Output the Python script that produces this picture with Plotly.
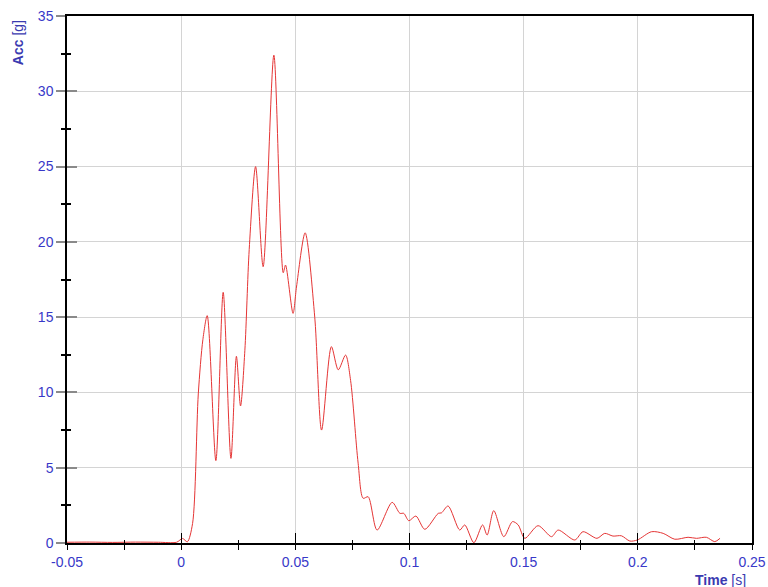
import plotly.graph_objects as go

# Time [s] and acceleration [g]
time_s = [-0.05, -0.04, -0.03, -0.02, -0.01, -0.002, 0.0006, 0.0027, 0.0050, 0.0075,
          0.0095, 0.0114, 0.0152, 0.0184, 0.0218, 0.0242, 0.026, 0.0279, 0.0298,
          0.0326, 0.0359, 0.0406, 0.0447, 0.0457, 0.049, 0.0505, 0.0543, 0.0585, 0.0615,
          0.0658, 0.0688, 0.072, 0.0742, 0.0775, 0.0797, 0.0819, 0.0858, 0.0924, 0.0958,
          0.0975, 0.0997, 0.1028, 0.1067, 0.1126, 0.114, 0.1169, 0.122, 0.1242, 0.1282,
          0.132, 0.134, 0.1369, 0.1413, 0.1451, 0.1476, 0.1505, 0.1563, 0.1622, 0.1651,
          0.1724, 0.176, 0.1821, 0.1855, 0.1891, 0.1928, 0.1965, 0.1998, 0.206, 0.2111,
          0.2162, 0.222, 0.2257, 0.23, 0.2337, 0.236]
acc_g = [0.05, 0.06, 0.04, 0.06, 0.05, 0.05, 0.3, 0.08, 1.3, 9.9,
         13.5, 15.1, 5.47, 16.65, 5.62, 12.4, 9.1, 12.8, 19.5,
         25.0, 18.35, 32.4, 17.95, 18.46, 15.25, 17.0, 20.6, 15.0, 7.5,
         13.04, 11.5, 12.48, 10.8, 5.3, 2.97, 3.07, 0.86, 2.7, 1.97,
         1.97, 1.48, 1.79, 0.91, 1.97, 2.0, 2.46, 0.86, 1.2, 0.02,
         1.2, 0.53, 2.15, 0.42, 1.42, 1.2, 0.31, 1.15, 0.42, 0.86,
         0.2, 0.75, 0.31, 0.64, 0.46, 0.48, 0.13, 0.2, 0.75, 0.64,
         0.25, 0.38, 0.31, 0.38, 0.09, 0.31]

x_ticks = [-0.05, 0, 0.05, 0.1, 0.15, 0.2, 0.25]
x_labels = ["-0.05", "0", "0.05", "0.1", "0.15", "0.2", "0.25"]
y_ticks = [0, 5, 10, 15, 20, 25, 30, 35]

label_color = "#3838c8"
title_color = "#3a3ab0"
font_family = "Liberation Sans, Arial, sans-serif"

fig = go.Figure()
fig.add_trace(go.Scatter(x=time_s, y=acc_g, mode="lines",
                         line=dict(color="#e53535", width=1, shape="spline", smoothing=0.8),
                         hoverinfo="skip", showlegend=False))
# invisible trace for overlay axes carrying the inside halves of the ticks
fig.add_trace(go.Scatter(x=[x_ticks[0], x_ticks[-1]], y=[0, 35], xaxis="x2", yaxis="y2",
                         mode="markers", marker=dict(opacity=0), hoverinfo="skip",
                         showlegend=False))

fig.update_layout(
    width=768, height=587,
    margin=dict(l=67, r=16, t=16, b=44),
    plot_bgcolor="white", paper_bgcolor="white",
    font=dict(family=font_family, size=14, color=label_color),
    xaxis=dict(range=[-0.05, 0.25], tickvals=x_ticks, ticktext=x_labels, automargin=False,
               showgrid=True, gridcolor="#d4d4d4", gridwidth=1, zeroline=False,
               showline=True, linecolor="black", linewidth=1.5, mirror=True,
               ticks="outside", ticklen=5, tickcolor="black", tickwidth=1,
               minor=dict(dtick=0.025, tick0=0, ticks="outside", ticklen=5,
                          tickcolor="black", showgrid=False),
               tickfont=dict(size=14, color=label_color)),
    yaxis=dict(range=[0, 35], tickvals=y_ticks, automargin=False,
               showgrid=True, gridcolor="#d4d4d4", gridwidth=1, zeroline=False,
               showline=True, linecolor="black", linewidth=1.5, mirror=True,
               ticks="outside", ticklen=9, tickcolor="#8a8a8a", tickwidth=1.5,
               minor=dict(dtick=2.5, tick0=0, ticks="outside", ticklen=4,
                          tickcolor="black", showgrid=False),
               tickfont=dict(size=14, color=label_color)),
    xaxis2=dict(range=[-0.05, 0.25], overlaying="x", side="bottom", anchor="y2",
                automargin=False,
                tickvals=x_ticks, showticklabels=False, showgrid=False, zeroline=False,
                showline=False, ticks="inside", ticklen=10, tickcolor="black", tickwidth=1,
                minor=dict(dtick=0.025, tick0=0, ticks="inside", ticklen=3,
                           tickcolor="black", showgrid=False)),
    yaxis2=dict(range=[0, 35], overlaying="y", side="left", anchor="x2",
                automargin=False,
                tickvals=y_ticks, showticklabels=False, showgrid=False, zeroline=False,
                showline=False, ticks="inside", ticklen=10, tickcolor="#8a8a8a", tickwidth=1.5,
                minor=dict(dtick=2.5, tick0=0, ticks="inside", ticklen=4,
                           tickcolor="black", showgrid=False)),
    annotations=[
        dict(text="<b>Acc</b> [g]", xref="paper", yref="paper", x=-0.0715, y=0.995,
             xanchor="center", yanchor="top", textangle=-90, showarrow=False,
             font=dict(size=14, color=title_color, family=font_family)),
        dict(text="<b>Time</b> [s]", xref="paper", yref="paper", x=0.994, y=-0.070,
             xanchor="right", yanchor="middle", showarrow=False,
             font=dict(size=14, color=title_color, family=font_family)),
    ],
)

fig.write_html("out.html", config={"displayModeBar": False},
               post_script="document.body.style.margin='0';document.body.style.overflow='hidden';")
